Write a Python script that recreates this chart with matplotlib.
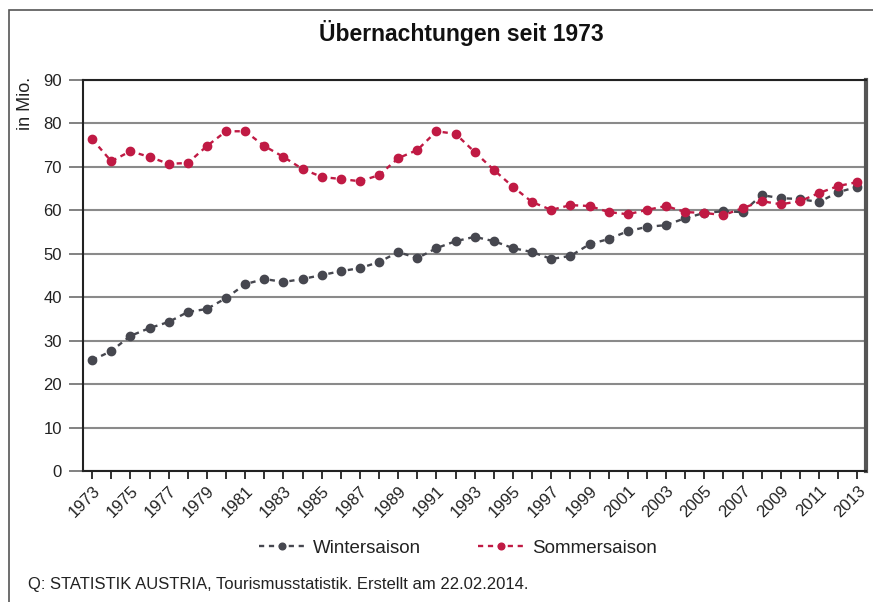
import numpy as np
import matplotlib.pyplot as plt
from matplotlib.patches import Rectangle

plt.rcParams['font.family'] = ['Liberation Sans', 'DejaVu Sans']

years = list(range(1973, 2014))

# Winter- und Sommersaison, Übernachtungen in Mio.
winter = [25.5, 27.6, 31.1, 32.9, 34.3, 36.6, 37.3, 39.8, 43.0, 44.2,
          43.5, 44.2, 45.1, 46.0, 46.7, 48.1, 50.4, 49.0, 51.3, 52.9,
          53.9, 52.9, 51.3, 50.4, 48.8, 49.5, 52.2, 53.4, 55.2, 56.2,
          56.6, 58.2, 59.4, 59.8, 59.6, 63.5, 62.8, 62.6, 61.9, 64.2,
          65.4]
sommer = [76.4, 71.3, 73.6, 72.3, 70.7, 70.9, 74.8, 78.2, 78.2, 74.8,
          72.3, 69.5, 67.7, 67.2, 66.7, 68.1, 72.0, 73.9, 78.2, 77.6,
          73.4, 69.3, 65.4, 61.9, 60.1, 61.2, 61.0, 59.6, 59.1, 60.1,
          61.0, 59.6, 59.4, 58.9, 60.5, 62.1, 61.4, 62.1, 64.0, 65.6,
          66.5]

c_winter = '#46474f'
c_sommer = '#c01a44'

W, H = 873, 602
fig = plt.figure(figsize=(W / 100, H / 100), dpi=100)
ax = fig.add_axes([0.095, 0.2176, 0.897, 0.6495])

ax.plot(years, winter, color=c_winter, linestyle=(0, (2.2, 2.0)), linewidth=1.7,
        marker='o', markersize=6, label='Wintersaison', zorder=3)
ax.plot(years, sommer, color=c_sommer, linestyle=(0, (2.2, 2.0)), linewidth=1.7,
        marker='o', markersize=6, label='Sommersaison', zorder=3)

ax.set_xlim(1972.52, 2013.45)
ax.set_ylim(0, 90)
ax.set_yticks(range(0, 91, 10))
ax.set_xticks(years, minor=True)
ax.set_xticks(years[::2])
ax.set_xticklabels([str(y) for y in years[::2]], rotation=45, ha='right',
                   rotation_mode='anchor', fontsize=12, color='#222222')
ax.tick_params(axis='x', which='both', direction='out', length=6, width=1.3,
               color='#222222', pad=3)
ax.tick_params(axis='y', direction='out', length=10, width=1.3, color='#777777',
               labelsize=12, labelcolor='#222222', pad=5)

ax.grid(axis='y', color='#8a8a8a', linewidth=1.5, zorder=0)
ax.set_axisbelow(True)

for side in ['left', 'bottom', 'top']:
    ax.spines[side].set_linewidth(1.5)
    ax.spines[side].set_color('#222222')
ax.spines['right'].set_linewidth(3)
ax.spines['right'].set_color('#555555')

fig.text(25 / W, 1 - 103 / H, 'in Mio.', rotation=90, ha='center', va='center',
         fontsize=13, color='#222222')
fig.text(461 / W, 1 - 33 / H, 'Übernachtungen seit 1973', ha='center', va='center',
         fontsize=16.5, fontweight='bold', color='#111111')

fig.legend(loc='center', bbox_to_anchor=(458 / W, 1 - 548 / H), ncol=2, frameon=False,
           fontsize=13.5, handlelength=2.5, columnspacing=3.0, handletextpad=0.4,
           labelcolor='#222222', markerscale=0.8)

fig.text(28 / W, 1 - 585 / H,
         'Q: STATISTIK AUSTRIA, Tourismusstatistik. Erstellt am 22.02.2014.',
         ha='left', va='center', fontsize=12, color='#222222')

# Rahmen nur links und oben sichtbar
fig.patches.append(Rectangle((9 / W, -0.05), 1.0, 1.05 - 10 / H,
                             transform=fig.transFigure, fill=False,
                             edgecolor='#555555', linewidth=1.2))

fig.savefig('out.png', dpi=100)
